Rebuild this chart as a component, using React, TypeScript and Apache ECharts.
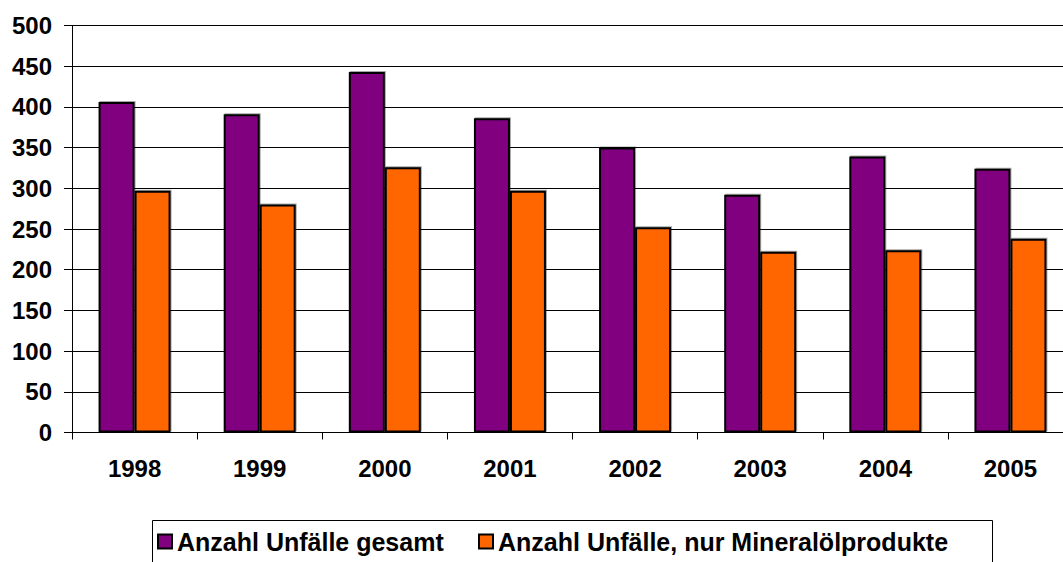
import React, { useEffect, useRef } from "react";
import * as echarts from "echarts";

const categories = ["1998", "1999", "2000", "2001", "2002", "2003", "2004", "2005"];
const totalAccidents = [406, 391, 443, 386, 350, 292, 339, 324];
const mineralOilAccidents = [297, 280, 326, 297, 252, 222, 224, 238];
const seriesNames = ["Anzahl Unfälle gesamt", "Anzahl Unfälle, nur Mineralölprodukte"];

export default function App() {
  const ref = useRef<HTMLDivElement>(null);
  useEffect(() => {
    if (!ref.current) return;
    const chart = echarts.init(ref.current, undefined, { renderer: "svg" });
    const font = "'Liberation Sans', Arial, sans-serif";
    const legendBase = {
      orient: "horizontal",
      top: 529,
      padding: 0,
      itemWidth: 14,
      itemHeight: 14,
      icon: "rect",
      textStyle: { fontSize: 25, fontWeight: "bold", color: "#000", fontFamily: font },
    };
    chart.setOption({
      animation: false,
      backgroundColor: "#ffffff",
      textStyle: { fontFamily: font },
      grid: {
        left: 72,
        top: 25.5,
        bottom: 129.5,
        width: 1001,
        containLabel: false,
        outerBoundsMode: "none",
      },
      graphic: [
        {
          type: "rect",
          left: 150,
          top: 518,
          shape: { x: 0, y: 0, width: 840, height: 50 },
          style: { fill: "none", stroke: "#000", lineWidth: 1 },
          silent: true,
          z: 100,
        },
      ],
      legend: [
        { ...legendBase, left: 157, data: [seriesNames[0]] },
        { ...legendBase, left: 478, data: [seriesNames[1]] },
      ],
      xAxis: {
        type: "category",
        data: categories,
        axisLine: { show: true, lineStyle: { color: "#000", width: 1 } },
        axisTick: { show: true, length: 7, lineStyle: { color: "#000" } },
        axisLabel: { fontSize: 24, fontWeight: "bold", color: "#000", margin: 24, fontFamily: font },
      },
      yAxis: {
        type: "value",
        min: 0,
        max: 500,
        interval: 50,
        axisLine: { show: true, lineStyle: { color: "#000", width: 1 } },
        axisTick: { show: true, length: 8, lineStyle: { color: "#000" } },
        axisLabel: { fontSize: 24, fontWeight: "bold", color: "#000", margin: 20, fontFamily: font },
        splitLine: { show: true, lineStyle: { color: "#000", width: 1 } },
      },
      series: [
        {
          name: seriesNames[0],
          type: "bar",
          data: totalAccidents,
          barWidth: 36,
          barGap: "0%",
          itemStyle: {
            color: "#800080",
            borderColor: "#000",
            borderWidth: 2,
            shadowColor: "rgba(0,0,0,0.35)",
            shadowOffsetX: 1,
            shadowOffsetY: -1,
          },
        },
        {
          name: seriesNames[1],
          type: "bar",
          data: mineralOilAccidents,
          barWidth: 36,
          barGap: "0%",
          itemStyle: {
            color: "#ff6600",
            borderColor: "#000",
            borderWidth: 2,
            shadowColor: "rgba(0,0,0,0.35)",
            shadowOffsetX: 1,
            shadowOffsetY: -1,
          },
        },
      ],
    });
    return () => chart.dispose();
  }, []);
  return (
    <div
      ref={ref}
      style={{ position: "fixed", left: 0, top: 0, width: 1063, height: 562, background: "#fff" }}
    />
  );
}
